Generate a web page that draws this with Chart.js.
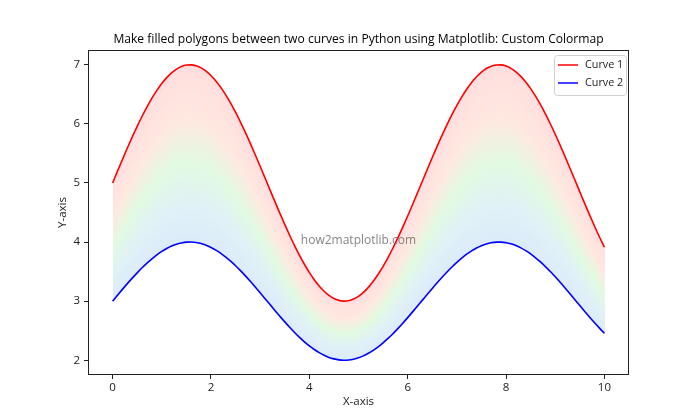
<!DOCTYPE html>
<html>
<head>
<meta charset="utf-8">
<script src="https://cdn.jsdelivr.net/npm/chart.js@4.4.0/dist/chart.umd.min.js"></script>
<style>
  html, body { margin: 0; padding: 0; background: #fff; }
</style>
</head>
<body>
<canvas id="myChart" width="700" height="420"></canvas>
<script>
// values, x from 0 to 10 in steps of 0.1
const xValues = [
  0.0, 0.1, 0.2, 0.3, 0.4, 0.5, 0.6, 0.7, 0.8, 0.9,
  1.0, 1.1, 1.2, 1.3, 1.4, 1.5, 1.6, 1.7, 1.8, 1.9,
  2.0, 2.1, 2.2, 2.3, 2.4, 2.5, 2.6, 2.7, 2.8, 2.9,
  3.0, 3.1, 3.2, 3.3, 3.4, 3.5, 3.6, 3.7, 3.8, 3.9,
  4.0, 4.1, 4.2, 4.3, 4.4, 4.5, 4.6, 4.7, 4.8, 4.9,
  5.0, 5.1, 5.2, 5.3, 5.4, 5.5, 5.6, 5.7, 5.8, 5.9,
  6.0, 6.1, 6.2, 6.3, 6.4, 6.5, 6.6, 6.7, 6.8, 6.9,
  7.0, 7.1, 7.2, 7.3, 7.4, 7.5, 7.6, 7.7, 7.8, 7.9,
  8.0, 8.1, 8.2, 8.3, 8.4, 8.5, 8.6, 8.7, 8.8, 8.9,
  9.0, 9.1, 9.2, 9.3, 9.4, 9.5, 9.6, 9.7, 9.8, 9.9,
  10.0
];

const curve1 = [
  5.000, 5.200, 5.397, 5.591, 5.779, 5.959, 6.129, 6.288, 6.435, 6.567,
  6.683, 6.782, 6.864, 6.927, 6.971, 6.995, 6.999, 6.983, 6.948, 6.893,
  6.819, 6.726, 6.617, 6.491, 6.351, 6.197, 6.031, 5.855, 5.670, 5.478,
  5.282, 5.083, 4.883, 4.685, 4.489, 4.298, 4.115, 3.940, 3.776, 3.624,
  3.486, 3.363, 3.257, 3.168, 3.097, 3.045, 3.013, 3.000, 3.008, 3.035,
  3.082, 3.148, 3.233, 3.335, 3.454, 3.589, 3.737, 3.899, 4.071, 4.252,
  4.441, 4.636, 4.834, 5.034, 5.233, 5.430, 5.623, 5.810, 5.988, 6.157,
  6.314, 6.458, 6.587, 6.701, 6.797, 6.876, 6.936, 6.976, 6.997, 6.998,
  6.979, 6.940, 6.881, 6.804, 6.709, 6.597, 6.469, 6.326, 6.170, 6.002,
  5.824, 5.638, 5.446, 5.249, 5.050, 4.850, 4.651, 4.456, 4.267, 4.085,
  3.912
];

const curve2 = [
  3.000, 3.100, 3.199, 3.296, 3.389, 3.479, 3.565, 3.644, 3.717, 3.783,
  3.842, 3.891, 3.932, 3.964, 3.985, 3.998, 4.000, 3.992, 3.974, 3.946,
  3.909, 3.863, 3.809, 3.746, 3.676, 3.599, 3.516, 3.427, 3.335, 3.239,
  3.141, 3.042, 2.942, 2.842, 2.745, 2.649, 2.558, 2.470, 2.388, 2.312,
  2.243, 2.182, 2.128, 2.084, 2.048, 2.023, 2.006, 2.000, 2.004, 2.018,
  2.041, 2.074, 2.117, 2.168, 2.227, 2.295, 2.369, 2.449, 2.535, 2.626,
  2.721, 2.818, 2.917, 3.017, 3.117, 3.215, 3.312, 3.405, 3.494, 3.578,
  3.657, 3.729, 3.794, 3.850, 3.899, 3.938, 3.968, 3.988, 3.999, 3.999,
  3.989, 3.970, 3.941, 3.902, 3.855, 3.799, 3.734, 3.663, 3.585, 3.501,
  3.412, 3.319, 3.223, 3.125, 3.025, 2.925, 2.826, 2.728, 2.634, 2.543,
  2.456
];

const xTicks = [0, 2, 4, 6, 8, 10];
const yTicks = [2, 3, 4, 5, 6, 7];

const seriesNames = ["Curve 1", "Curve 2"];
const seriesColors = ["#ff0000", "#0000ff"];

const FONT = "'Open Sans', 'DejaVu Sans', sans-serif";
const TEXT = "#222";

// colormap for the band, from the upper curve (0) to the lower one (1)
const bandStops = [
  [0.0, "rgb(255,222,222)"],
  [0.3, "rgb(255,232,224)"],
  [0.55, "rgb(226,250,226)"],
  [0.8, "rgb(224,241,247)"],
  [1.0, "rgb(220,235,250)"]
];

function lerpAt(arr, xv) {
  let i = 0;
  while (i < xValues.length - 2 && xValues[i + 1] < xv) i++;
  const t = (xv - xValues[i]) / (xValues[i + 1] - xValues[i]);
  return arr[i] + t * (arr[i + 1] - arr[i]);
}

const bandFill = {
  id: "bandFill",
  beforeDatasetsDraw(chart) {
    const { ctx, chartArea } = chart;
    const xs = chart.scales.x, ys = chart.scales.y;
    const p0 = Math.round(xs.getPixelForValue(xValues[0]));
    const p1 = Math.round(xs.getPixelForValue(xValues[xValues.length - 1]));
    ctx.save();
    ctx.beginPath();
    ctx.rect(chartArea.left, chartArea.top, chartArea.width, chartArea.height);
    ctx.clip();
    for (let px = p0; px <= p1; px++) {
      let xv = xs.getValueForPixel(px + 0.5);
      xv = Math.min(Math.max(xv, xValues[0]), xValues[xValues.length - 1]);
      const yt = ys.getPixelForValue(lerpAt(curve1, xv));
      const yb = ys.getPixelForValue(lerpAt(curve2, xv));
      const g = ctx.createLinearGradient(0, yt, 0, yb);
      bandStops.forEach(s => g.addColorStop(s[0], s[1]));
      ctx.fillStyle = g;
      ctx.fillRect(px, yt, 1, yb - yt);
    }
    ctx.restore();
  }
};

const decorations = {
  id: "decorations",
  afterDraw(chart) {
    const { ctx, chartArea: a } = chart;
    ctx.save();

    // frame on all four sides
    ctx.strokeStyle = "#222";
    ctx.lineWidth = 1;
    ctx.strokeRect(Math.round(a.left) + 0.5, Math.round(a.top) + 0.5,
      Math.round(a.width) - 1, Math.round(a.height) - 1);

    // title
    const cx = (a.left + a.right) / 2;
    ctx.fillStyle = "#000";
    ctx.textAlign = "center";
    ctx.textBaseline = "middle";
    ctx.font = "12.1px " + FONT;
    ctx.fillText("Make filled polygons between two curves in Python using Matplotlib: Custom Colormap", cx, 40);

    // axis labels
    ctx.fillStyle = TEXT;
    ctx.font = "11.5px " + FONT;
    ctx.fillText("X-axis", cx, 402);
    ctx.save();
    ctx.translate(63, (a.top + a.bottom) / 2);
    ctx.rotate(-Math.PI / 2);
    ctx.fillText("Y-axis", 0, 0);
    ctx.restore();

    // watermark
    ctx.fillStyle = "rgba(110,110,110,0.85)";
    ctx.font = "12px " + FONT;
    ctx.fillText("how2matplotlib.com", cx, 241);

    // legend
    const lx = 554, ly = 55, lw = 72, lh = 40;
    ctx.fillStyle = "rgba(255,255,255,0.8)";
    ctx.strokeStyle = "#d0d0d0";
    ctx.beginPath();
    ctx.roundRect(lx + 0.5, ly + 0.5, lw, lh, 3);
    ctx.fill();
    ctx.stroke();
    ctx.textAlign = "left";
    ctx.font = "10.8px " + FONT;
    seriesNames.forEach((name, i) => {
      const yy = ly + 10 + i * 18;
      ctx.strokeStyle = seriesColors[i];
      ctx.lineWidth = 1.5;
      ctx.beginPath();
      ctx.moveTo(lx + 4, yy);
      ctx.lineTo(lx + 24, yy);
      ctx.stroke();
      ctx.fillStyle = TEXT;
      ctx.fillText(name, lx + 31, yy);
    });

    ctx.restore();
  }
};

const ctx = document.getElementById("myChart").getContext("2d");
const myChart = new Chart(ctx, {
  type: "line",
  data: {
    datasets: [
      {
        label: seriesNames[0],
        data: xValues.map((x, i) => ({ x: x, y: curve1[i] })),
        borderColor: seriesColors[0],
        borderWidth: 1.6,
        pointRadius: 0,
        cubicInterpolationMode: "monotone",
        fill: false,
      },
      {
        label: seriesNames[1],
        data: xValues.map((x, i) => ({ x: x, y: curve2[i] })),
        borderColor: seriesColors[1],
        borderWidth: 1.6,
        pointRadius: 0,
        cubicInterpolationMode: "monotone",
        fill: false,
      },
    ],
  },
  options: {
    responsive: false,
    animation: false,
    devicePixelRatio: 1,
    layout: {
      padding: { left: 0, top: 50, right: 71, bottom: 0 },
    },
    plugins: {
      legend: { display: false },
      title: { display: false },
      tooltip: { enabled: false },
    },
    scales: {
      x: {
        type: "linear",
        min: -0.5,
        max: 10.5,
        afterBuildTicks: function (scale) {
          scale.ticks = xTicks.map(v => ({ value: v }));
        },
        afterFit: function (scale) {
          scale.height = 45;
        },
        ticks: {
          autoSkip: false,
          maxRotation: 0,
          padding: 2,
          color: TEXT,
          font: { family: FONT, size: 11.5 },
        },
        grid: {
          drawOnChartArea: false,
          tickLength: 4,
          color: "#222",
        },
        border: { display: false },
      },
      y: {
        type: "linear",
        min: 1.75,
        max: 7.25,
        afterBuildTicks: function (scale) {
          scale.ticks = yTicks.map(v => ({ value: v }));
        },
        afterFit: function (scale) {
          scale.width = 88;
        },
        ticks: {
          autoSkip: false,
          padding: 4,
          color: TEXT,
          font: { family: FONT, size: 11.5 },
        },
        grid: {
          drawOnChartArea: false,
          tickLength: 4,
          color: "#222",
        },
        border: { display: false },
      },
    },
  },
  plugins: [bandFill, decorations],
});
</script>
</body>
</html>
